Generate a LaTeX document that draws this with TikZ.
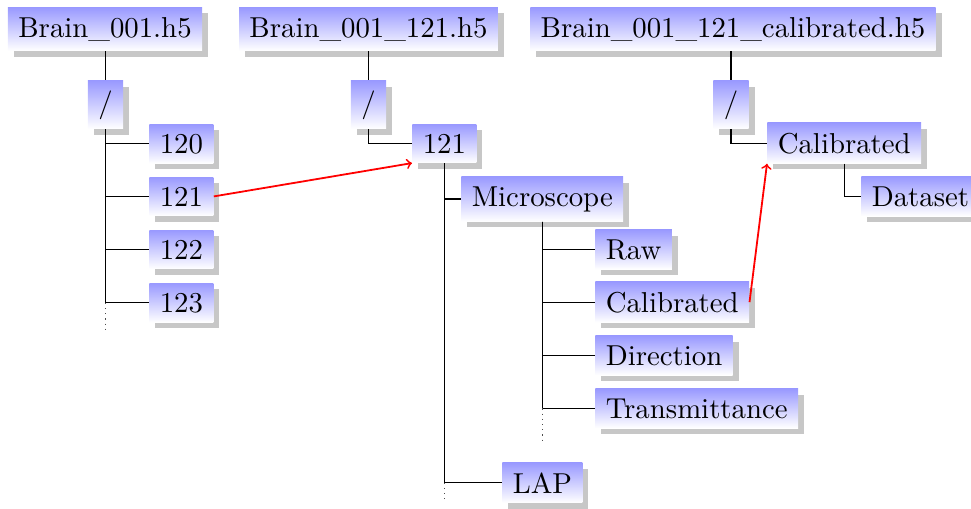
\documentclass[tikz,border=0pt]{standalone}
\usepackage{fontspec}
\newfontfamily\lmten{lmroman10-regular}[Extension=.otf]
\usetikzlibrary{shadows}
\begin{document}
\begin{tikzpicture}[x=0.5pt,y=-0.5pt,
  every node/.style={font=\lmten\fontsize{14.4}{17}\selectfont},
  box/.style={inner xsep=5.2pt, inner ysep=4.85pt, top color=blue!40, bottom color=white, draw=none,
    drop shadow={shadow xshift=3pt, shadow yshift=-3pt, fill=black!22, opacity=1}},
  conn/.style={line width=0.6pt},
  dots/.style={line width=0.6pt, dotted, black!70},
  link/.style={red, line width=0.9pt, ->}]
\useasboundingbox (0,0) rectangle (971,509);
% tree 1
\node[box, anchor=base] (b1) at (105,37) {Brain\_001.h5};
\node[box, anchor=base] (s1) at (105.5,112) {/};
\node[box, anchor=base west] (c120) at (149,153) {120};
\node[box, anchor=base west] (c121) at (149,206) {121};
\node[box, anchor=base west] (c122) at (149,259) {122};
\node[box, anchor=base west] (c123) at (149,312) {123};
% tree 2
\node[box, anchor=base] (b2) at (368.5,37) {Brain\_001\_121.h5};
\node[box, anchor=base] (s2) at (368.5,112) {/};
\node[box, anchor=base west] (n121) at (412,153) {121};
\node[box, anchor=base west] (micro) at (461,206) {Microscope};
\node[box, anchor=base west] (raw) at (595,259) {Raw};
\node[box, anchor=base west] (cal2) at (595,312) {Calibrated};
\node[box, anchor=base west] (dir) at (595,365) {Direction};
\node[box, anchor=base west] (trans) at (595,418) {Transmittance};
\node[box, anchor=base west] (lap) at (502,493) {LAP};
% tree 3
\node[box, anchor=base] (b3) at (733,37) {Brain\_001\_121\_calibrated.h5};
\node[box, anchor=base] (s3) at (731,112) {/};
\node[box, anchor=base west] (cal3) at (767,153) {Calibrated};
\node[box, anchor=base west] (data) at (861,206) {Dataset};
% connectors tree 1
\draw[conn] (b1.south -| s1.north) -- (s1.north);
\foreach \c in {c120,c121,c122,c123} \draw[conn] (s1.south) |- (\c.west);
\draw[dots] (s1.south |- c123.west) -- ++(0,28);
% connectors tree 2
\draw[conn] (b2.south -| s2.north) -- (s2.north);
\draw[conn] (s2.south) |- (n121.west);
\draw[conn] (n121.south) |- (micro.west);
\draw[conn] (n121.south) |- (lap.west);
\draw[dots] (n121.south |- lap.west) -- ++(0,20);
\foreach \c in {raw,cal2,dir,trans} \draw[conn] (micro.south) |- (\c.west);
\draw[dots] (micro.south |- trans.west) -- ++(0,32);
% connectors tree 3
\draw[conn] (b3.south -| s3.north) -- (s3.north);
\draw[conn] (s3.south) |- (cal3.west);
\draw[conn] (cal3.south) |- (data.west);
% links
\draw[link] (c121.east) -- (n121.south west);
\draw[link] (cal2.east) -- (cal3.south west);
\end{tikzpicture}
\end{document}
